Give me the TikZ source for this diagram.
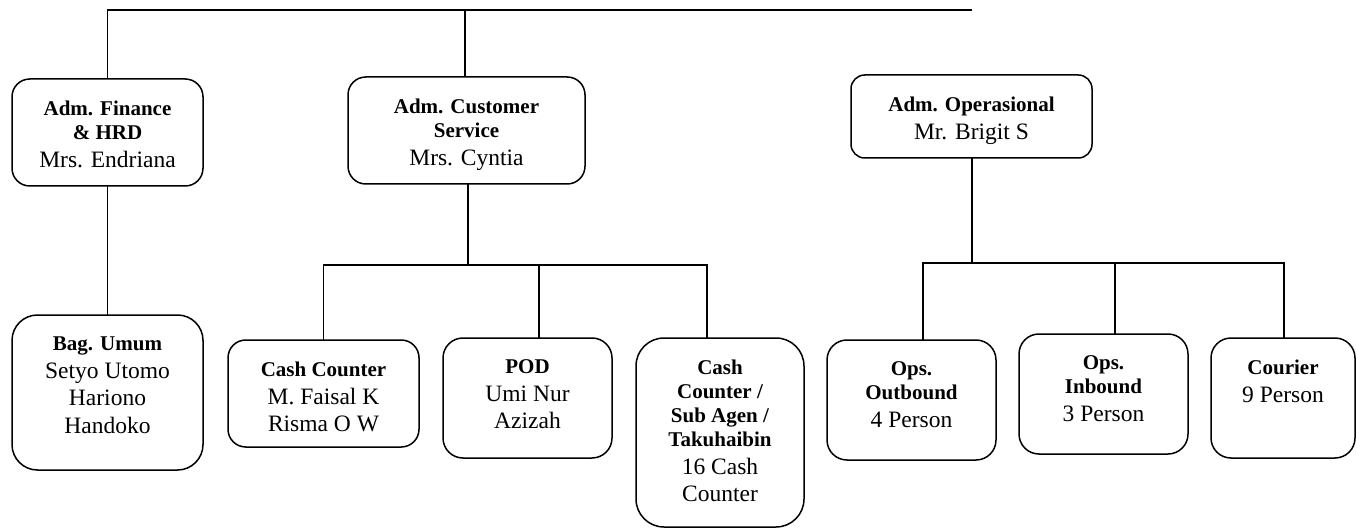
\documentclass[tikz,border=0pt]{standalone}
\usepackage{fontspec}
\setmainfont{Liberation Serif}
\newcommand\hdfont{\fontsize{21}{24}\selectfont\bfseries}
\newcommand\bdfont{\fontsize{23.5}{27.5}\selectfont\mdseries}
\newcommand\orgtext[3]{\parbox[c][#2][t]{#1}{\centering\vspace*{22pt}#3}}
\tikzset{
  orgbox/.style={draw, line width=1.5pt, inner sep=0pt, outer sep=0pt, anchor=north west, fill=white},
  link/.style={draw, line width=1.3pt}
}
\begin{document}
\begin{tikzpicture}[x=1pt, y=-1pt]
\useasboundingbox[fill=white] (0,0) rectangle (1357,529);

% boxes
\node[orgbox, rounded corners=17.8pt] (fin) at (12,79)
  {\orgtext{191pt}{107pt}{{\hdfont Adm. Finance\\\& HRD\par}{\bdfont Mrs. Endriana\par}}};
\node[orgbox, rounded corners=17.8pt] (cus) at (348,77)
  {\orgtext{237pt}{107pt}{{\hdfont Adm. Customer\\Service\par}{\bdfont Mrs. Cyntia\par}}};
\node[orgbox, rounded corners=13.8pt] (ops) at (851,75)
  {\orgtext{241pt}{83pt}{{\hdfont Adm. Operasional\par}{\bdfont Mr. Brigit S\par}}};
\node[orgbox, rounded corners=25.5pt] (bag) at (12,315)
  {\orgtext{191pt}{155pt}{{\hdfont Bag. Umum\par}{\bdfont Setyo Utomo\\Hariono\\Handoko\par}}};
\node[orgbox, rounded corners=17.8pt] (cc) at (228,340)
  {\orgtext{191pt}{107pt}{{\hdfont Cash Counter\par}{\bdfont M. Faisal K\\Risma O W\par}}};
\node[orgbox, rounded corners=20pt] (pod) at (443,338)
  {\orgtext{169pt}{120pt}{{\hdfont POD\par}{\bdfont Umi Nur\\Azizah\par}}};
\node[orgbox, rounded corners=28pt] (cs) at (636,338)
  {\orgtext{168pt}{189pt}{{\hdfont Cash\\Counter /\\Sub Agen /\\Takuhaibin\par}{\bdfont 16 Cash\\Counter\par}}};
\node[orgbox, rounded corners=20pt] (out) at (827,340)
  {\orgtext{169pt}{120pt}{{\hdfont Ops.\\Outbound\par}{\bdfont 4 Person\par}}};
\node[orgbox, rounded corners=20pt] (inb) at (1019,334)
  {\orgtext{169pt}{120pt}{{\hdfont Ops.\\Inbound\par}{\bdfont 3 Person\par}}};
\node[orgbox, rounded corners=20pt] (cou) at (1211,338)
  {\orgtext{144pt}{120pt}{{\hdfont Courier\par}{\bdfont 9 Person\par}}};

% helper coordinates
\coordinate (tend) at (972,10);
\coordinate (b1) at (0,265);
\coordinate (b2) at (0,263);

% top level
\draw[link] (fin.north) |- (tend);
\draw[link] ([xshift=-1.5pt]cus.north) -- ([xshift=-1.5pt]cus.north |- tend);

% finance branch
\draw[link] (fin.south) -- (bag.north);

% customer service branch
\draw[link] ([xshift=1.5pt]cus.south) -- ([xshift=1.5pt]cus.south |- b1);
\draw[link] (cc.north) |- ([xshift=-13pt]cs.north |- b1) -- ([xshift=-13pt]cs.north);
\draw[link] ([xshift=11.5pt]pod.north) -- ([xshift=11.5pt]pod.north |- b1);

% operasional branch
\draw[link] ([xshift=0.5pt]ops.south) -- ([xshift=0.5pt]ops.south |- b2);
\draw[link] ([xshift=11.5pt]out.north) |- ([xshift=1pt]cou.north |- b2) -- ([xshift=1pt]cou.north);
\draw[link] ([xshift=11.5pt]inb.north) -- ([xshift=11.5pt]inb.north |- b2);
\end{tikzpicture}
\end{document}
